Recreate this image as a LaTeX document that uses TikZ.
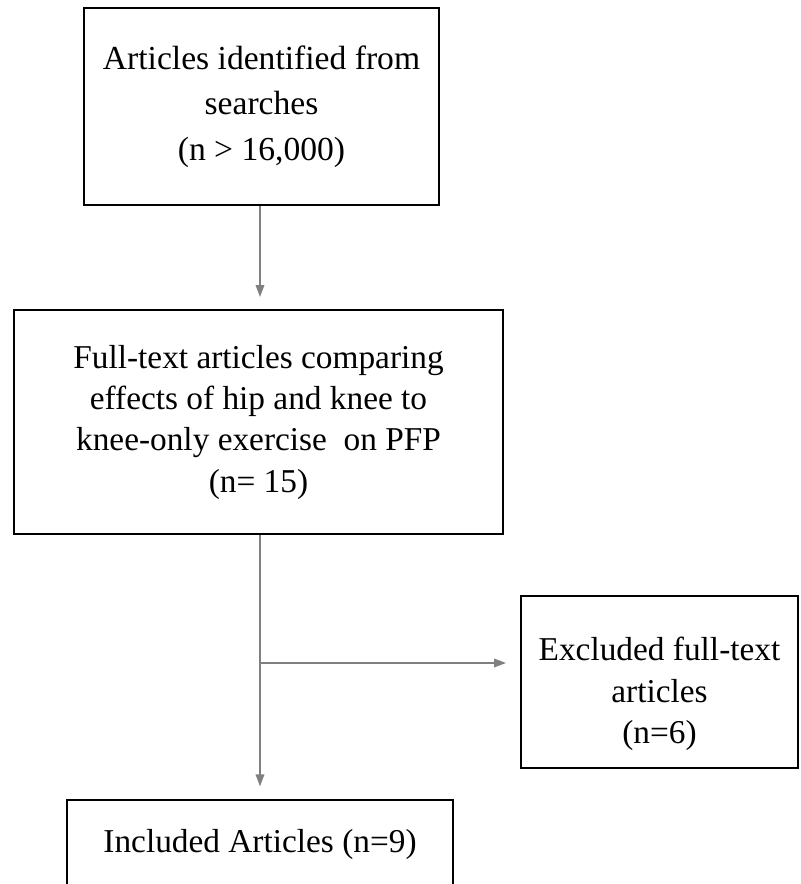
\documentclass[tikz,border=0pt]{standalone}
\usepackage{fontspec}
\setmainfont{Liberation Serif}
\usetikzlibrary{arrows.meta}
\definecolor{conngray}{HTML}{808080}
\tikzset{
  flowbox/.style={draw=black, line width=1.5pt, align=center, inner sep=0pt,
    font=\fontsize{25}{31}\selectfont},
  boxtext/.style={align=center, inner sep=0pt, font=\fontsize{25}{31}\selectfont},
  conn/.style={draw=conngray, line width=1pt, -{Triangle[length=9pt,width=6.5pt]}},
}
\begin{document}
\begin{tikzpicture}[x=0.75pt,y=-0.75pt]
\useasboundingbox (0,0) rectangle (800,884);
\node[flowbox, minimum width=355*0.75pt, minimum height=197*0.75pt,
  font=\fontsize{25.2}{34}\selectfont] (b1) at (261.5,106.5)
  {Articles identified from\\searches\\(n > 16,000)};
\node[flowbox, minimum width=489*0.75pt, minimum height=224*0.75pt] (b2) at (258.5,422)
  {Full-text articles comparing\\effects of hip and knee to\\knee-only exercise\ \ on PFP\\(n= 15)};
\node[flowbox, minimum width=277*0.75pt, minimum height=172*0.75pt] (b3) at (659.5,682) {};
\node[boxtext] (b3t) at (659.5,694) {Excluded full-text\\articles\\(n=6)};
\node[flowbox, minimum width=386*0.75pt, minimum height=88*0.75pt] (b4) at (260,844)
  {Included Articles (n=9)};
\coordinate (j) at (260,663);
\draw[conn, shorten >=9pt] (b1.south -| j) -- (b2.north -| j);
\draw[conn, shorten >=9.5pt] (b2.south -| j) -- (b4.north -| j);
\draw[conn, shorten >=10.5pt] (j) -- (j -| b3.west);
\end{tikzpicture}
\end{document}
